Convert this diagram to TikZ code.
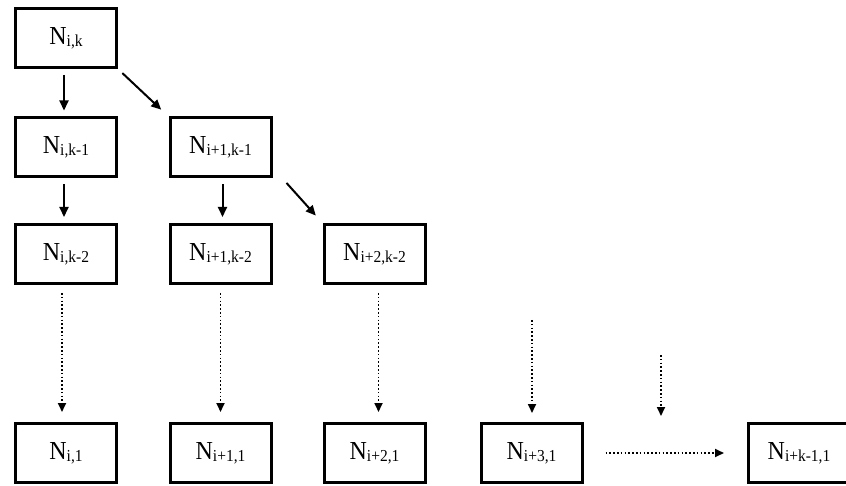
\documentclass[tikz,border=0pt]{standalone}
\usepackage{fontspec}
\setmainfont{Liberation Serif}
\usetikzlibrary{arrows.meta}

% node label: N with a lowered index, set slightly tall
\newcommand\nodelab[1]{\scalebox{1}[1.08]{\fontsize{24}{24}\selectfont N\raisebox{-1.5pt}{\fontsize{15.5}{15.5}\selectfont #1}}}

\begin{document}
\begin{tikzpicture}[x=1pt,y=-1pt,
  cell/.style={draw,line width=3pt,minimum width=101pt,minimum height=59pt,inner sep=0pt},
  solidarr/.style={line width=2pt,-{Triangle[length=10pt,width=9pt]}},
  dotarr/.style={line width=1.7pt,dash pattern=on 1.6pt off 2.2pt,-{Triangle[length=9pt,width=8pt]}}]
\useasboundingbox (0,0) rectangle (846,486);

% grid of cells
\node[cell] (a1) at (66,38)    {\nodelab{i,k}};
\node[cell] (a2) at (66,147.5) {\nodelab{i,k-1}};
\node[cell] (b2) at (220.5,147.5) {\nodelab{i+1,k-1}};
\node[cell] (a3) at (66,254)   {\nodelab{i,k-2}};
\node[cell] (b3) at (220.5,254) {\nodelab{i+1,k-2}};
\node[cell] (c3) at (374.5,254) {\nodelab{i+2,k-2}};
\node[cell] (a4) at (66,453)   {\nodelab{i,1}};
\node[cell] (b4) at (220.5,453) {\nodelab{i+1,1}};
\node[cell] (c4) at (374.5,453) {\nodelab{i+2,1}};
\node[cell] (d4) at (531.5,453) {\nodelab{i+3,1}};
\node[cell] (e4) at (799,453)  {\nodelab{i+k-1,1}};

% free ends of the dotted arrows
\coordinate (d0) at (532,320);
\coordinate (e0) at (661,355);
\coordinate (e1) at (661,416);

% solid arrows
\draw[solidarr,shorten <=6pt,shorten >=6pt] ([xshift=-2pt]a1.south) -- ([xshift=-2pt]a2.north);
\draw[solidarr,shorten <=6pt,shorten >=6pt] ([xshift=-2pt]a2.south) -- ([xshift=-2pt]a3.north);
\draw[solidarr,shorten <=6pt,shorten >=6pt] ([xshift=2pt]b2.south) -- ([xshift=2pt]b3.north);
\draw[solidarr,shorten <=6pt,shorten >=10pt] (a1.south east) -- (b2.north west);
\draw[solidarr,shorten <=6pt,shorten >=10pt] ([xshift=10pt]b2.south east) -- (c3.north west);

% dotted arrows
\draw[dotarr,shorten <=8pt,shorten >=10pt] ([xshift=-4pt]a3.south) -- ([xshift=-4pt]a4.north);
\draw[dotarr,shorten <=8pt,shorten >=10pt] (b3.south) -- (b4.north);
\draw[dotarr,shorten <=8pt,shorten >=10pt] ([xshift=4pt]c3.south) -- ([xshift=4pt]c4.north);
\draw[dotarr,shorten >=9pt] (d0) -- (d0 |- d4.north);
\draw[dotarr] (e0) -- (e1);
\draw[dotarr,shorten <=22pt,shorten >=23pt] (d4.east) -- (e4.west);
\end{tikzpicture}
\end{document}
